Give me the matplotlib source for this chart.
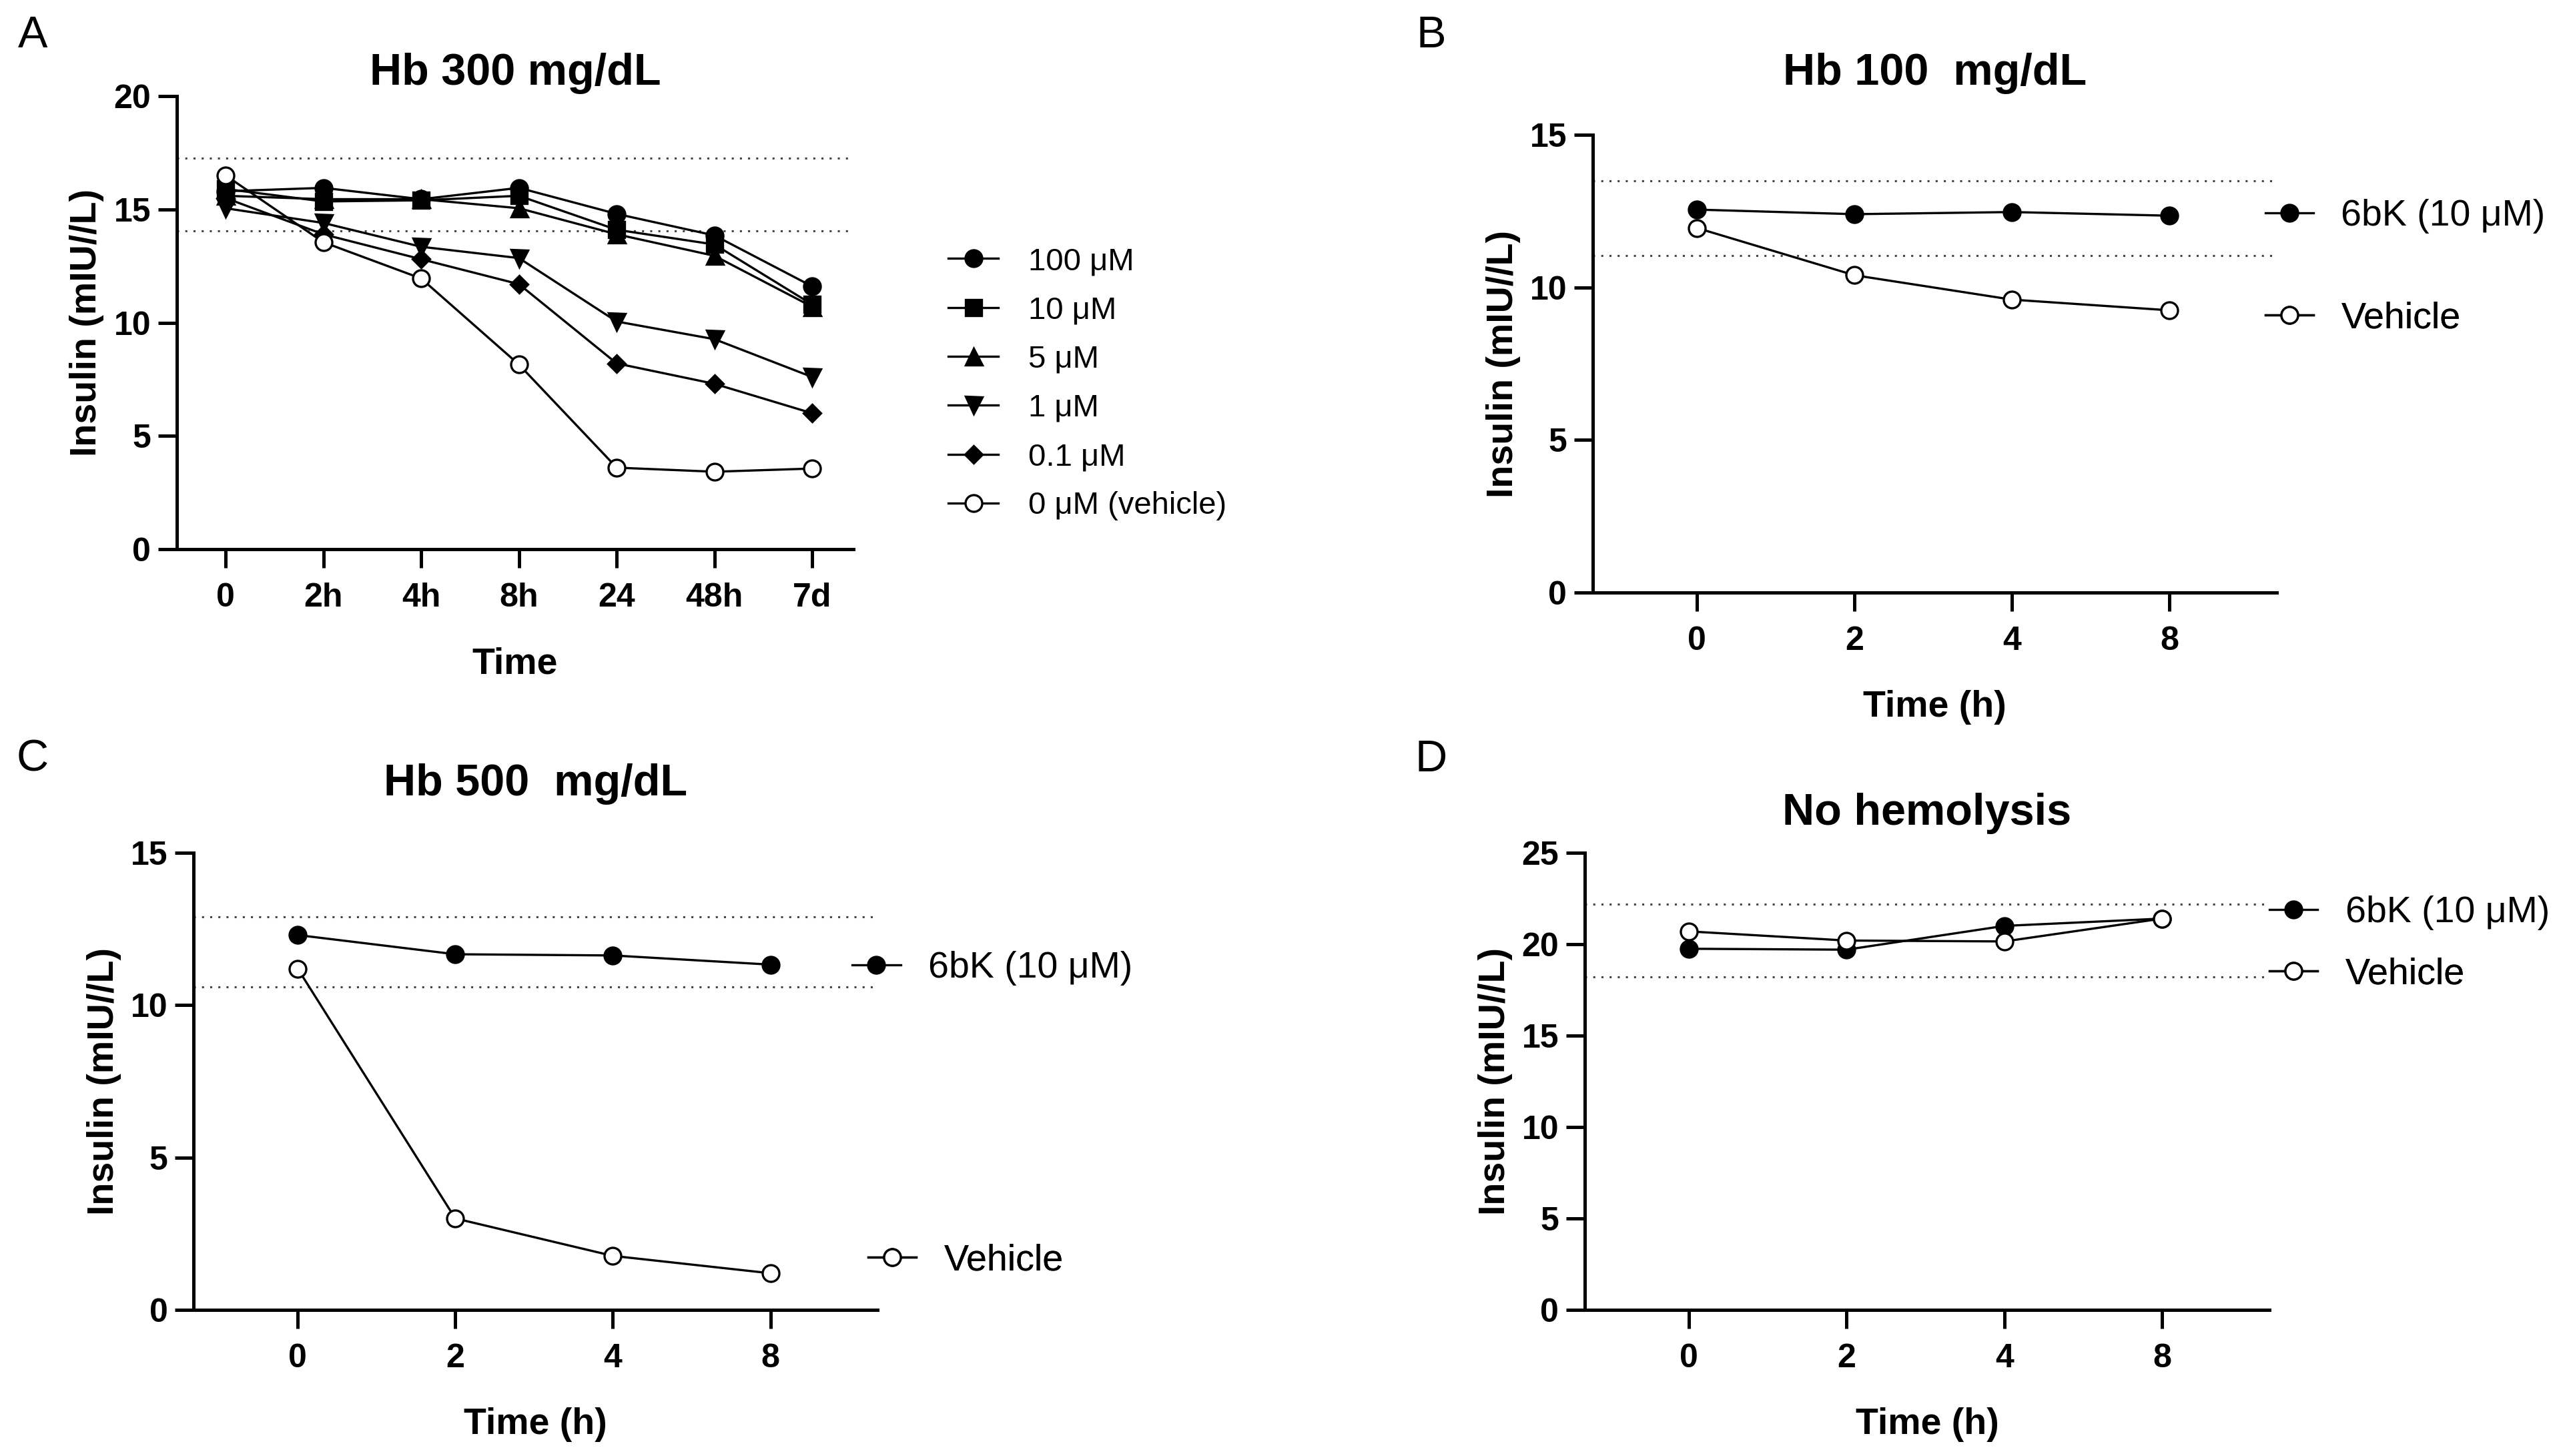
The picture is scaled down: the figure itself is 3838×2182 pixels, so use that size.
import matplotlib
matplotlib.use("Agg")
import matplotlib.pyplot as plt
from matplotlib.lines import Line2D

plt.rcParams['font.family'] = ['Liberation Sans', 'DejaVu Sans']

MU = "\u03bc"

# ---- Panel A: Hb 300 mg/dL, dose series ----
TIME_A = ["0", "2h", "4h", "8h", "24", "48h", "7d"]
A_LABELS = ["100 " + MU + "M", "10 " + MU + "M", "5 " + MU + "M",
            "1 " + MU + "M", "0.1 " + MU + "M", "0 " + MU + "M (vehicle)"]
A_100 = [15.8, 15.95, 15.45, 15.95, 14.8, 13.85, 11.6]
A_10 = [15.9, 15.35, 15.4, 15.6, 14.1, 13.45, 10.8]
A_5 = [15.6, 15.45, 15.45, 15.05, 13.9, 12.95, 10.7]
A_1 = [15.05, 14.4, 13.35, 12.85, 10.05, 9.27, 7.6]
A_01 = [15.5, 13.9, 12.8, 11.7, 8.2, 7.3, 6.0]
A_VEH = [16.5, 13.55, 11.95, 8.15, 3.6, 3.42, 3.56]
A_REF = [17.25, 14.05]

# ---- Panels B-D: 6bK (10 uM) vs vehicle ----
TIME_H = ["0", "2", "4", "8"]
SERIES_NAMES = ["6bK (10 " + MU + "M)", "Vehicle"]
B_6BK = [12.55, 12.4, 12.47, 12.35]
B_VEH = [11.95, 10.4, 9.6, 9.25]
B_REF = [13.5, 11.05]
C_6BK = [12.3, 11.67, 11.63, 11.33]
C_VEH = [11.2, 3.0, 1.77, 1.2]
C_REF = [12.9, 10.6]
D_6BK = [19.75, 19.7, 21.0, 21.4]
D_VEH = [20.7, 20.2, 20.15, 21.4]
D_REF = [22.2, 18.2]

LW = 1.2
MS = 9


def style_axis(ax, xlabels, xlim, ymax, ystep, xlabel, title, title_pad):
    for s in ["top", "right"]:
        ax.spines[s].set_visible(False)
    for s in ["left", "bottom"]:
        ax.spines[s].set_linewidth(1.8)
    ax.set_xlim(*xlim)
    ax.set_ylim(0, ymax)
    ax.set_xticks(range(len(xlabels)), xlabels, fontweight="bold")
    yt = list(range(0, ymax + 1, ystep))
    ax.set_yticks(yt, [str(v) for v in yt], fontweight="bold")
    ax.tick_params(axis="both", length=10, width=1.8, labelsize=18)
    ax.tick_params(axis="y", pad=4)
    ax.tick_params(axis="x", pad=8)
    ax.set_ylabel("Insulin (mIU//L)", fontsize=20, fontweight="bold", labelpad=5)
    ax.set_xlabel(xlabel, fontsize=20, fontweight="bold", labelpad=18)
    ax.set_title(title, fontsize=24, fontweight="bold", pad=title_pad)


def ref_lines(ax, refs):
    for v in refs:
        ax.axhline(v, color="#444444", lw=1.1, ls=(0, (1, 3)), zorder=1)


def line_handle(filled):
    return Line2D([], [], color="black", lw=LW, marker="o", ms=MS,
                  mfc="black" if filled else "white", mec="black", mew=1.2)


def side_legend(ax, filled, label, x, y):
    leg = ax.legend([line_handle(filled)], [label], loc="center left",
                    bbox_to_anchor=(x, y), frameon=False, fontsize=20,
                    handlelength=1.3, handletextpad=0.75,
                    borderaxespad=0, borderpad=0)
    ax.add_artist(leg)


fig = plt.figure(figsize=(19.19, 10.91), dpi=200)

# ===== A =====
axA = fig.add_axes([0.0690, 0.6228, 0.2642, 0.3112])
ref_lines(axA, A_REF)
xa = range(len(TIME_A))
a_series = [A_100, A_10, A_5, A_1, A_01, A_VEH]
a_markers = ["o", "s", "^", "v", "D", "o"]
a_sizes = [9, 8.5, 9, 9, 6.5, 9]
handles = []
for vals, m, ms, lab in zip(a_series, a_markers, a_sizes, A_LABELS):
    face = "white" if lab.endswith("(vehicle)") else "black"
    h, = axA.plot(xa, vals, color="black", lw=LW, marker=m, ms=ms,
                  mfc=face, mec="black", mew=1.2, label=lab, zorder=3,
                  clip_on=False)
    handles.append(h)
style_axis(axA, TIME_A, (-0.5, 6.42), 20, 5, "Time", "Hb 300 mg/dL", 6)
axA.legend(handles, A_LABELS, loc="center left", bbox_to_anchor=(1.14, 0.365),
           frameon=False, fontsize=17, handlelength=1.6, handletextpad=0.95,
           labelspacing=0.62, borderaxespad=0, borderpad=0)


def two_series_panel(rect, s6bk, sveh, refs, ymax, title, title_pad, leg_pos):
    ax = fig.add_axes(rect)
    ref_lines(ax, refs)
    x = range(len(TIME_H))
    ax.plot(x, s6bk, color="black", lw=LW, marker="o", ms=MS, mfc="black",
            mec="black", mew=1.2, zorder=3, clip_on=False)
    ax.plot(x, sveh, color="black", lw=LW, marker="o", ms=MS, mfc="white",
            mec="black", mew=1.2, zorder=3, clip_on=False)
    style_axis(ax, TIME_H, (-0.66, 3.68), ymax, 5, "Time (h)", title, title_pad)
    side_legend(ax, True, SERIES_NAMES[0], *leg_pos[0])
    side_legend(ax, False, SERIES_NAMES[1], *leg_pos[1])
    return ax


# ===== B =====
two_series_panel([0.6219, 0.5930, 0.2671, 0.3144], B_6BK, B_VEH, B_REF, 15,
                 "Hb 100  mg/dL", 27, [(0.983, 0.822), (0.983, 0.598)])
# ===== C =====
two_series_panel([0.0756, 0.1004, 0.2671, 0.3139], C_6BK, C_VEH, C_REF, 15,
                 "Hb 500  mg/dL", 31, [(0.963, 0.747), (0.986, 0.107)])
# ===== D =====
two_series_panel([0.6188, 0.1004, 0.2673, 0.3139], D_6BK, D_VEH, D_REF, 25,
                 "No hemolysis", 15, [(1.0, 0.868), (1.0, 0.734)])

# panel letters
for letter, fx, fy in [("A", 0.0128, 0.9753), ("B", 0.5587, 0.9753),
                       ("C", 0.0128, 0.4781), ("D", 0.5587, 0.4781)]:
    fig.text(fx, fy, letter, fontsize=24, ha="center", va="center")

fig.savefig("out.png", dpi=200, facecolor="white")
